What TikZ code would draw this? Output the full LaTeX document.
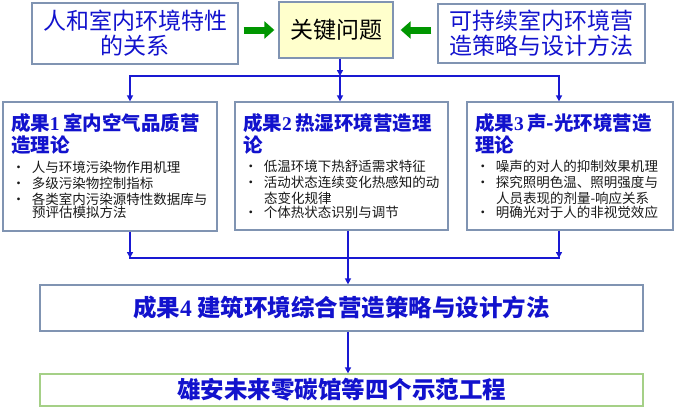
\documentclass[tikz,border=0pt]{standalone}
\usepackage{fontspec}
\setmainfont{Noto Sans CJK SC}
\newfontfamily\tnr{Liberation Serif}
\usetikzlibrary{arrows.meta}
\definecolor{tblue}{RGB}{18,18,205}
\definecolor{lblue}{RGB}{25,25,210}
\definecolor{bord}{RGB}{128,148,178}
\definecolor{keyfill}{RGB}{255,255,204}
\definecolor{gbord}{RGB}{165,208,135}
\definecolor{garr}{RGB}{0,150,0}
\definecolor{btxt}{RGB}{25,25,25}
\newcommand\mttl{\fontsize{19.5}{22}\selectfont\bfseries\color{tblue}}
\newcommand\mbdy{\fontsize{13.5}{16}\selectfont\mdseries\color{btxt}}
\newcommand\mbul{\makebox[21pt][l]{\hspace{1pt}\textbullet}}
\newcommand\mcont{\hspace*{21pt}}
\tikzset{
  box/.style={draw=bord, line width=1.3pt, inner sep=0pt, align=center},
  midbox/.style={box, align=left, inner xsep=8pt, minimum height=129pt},
  conn/.style={draw=lblue, line width=2pt, -{Triangle[length=6pt,width=6pt]}},
  plainconn/.style={draw=lblue, line width=2pt, line cap=rect},
  garrow/.style={draw=garr, line width=7pt, -{Triangle[length=10pt,width=17pt]}},
  topfont/.style={font=\fontsize{23}{25}\selectfont},
  botfont/.style={font=\fontsize{23.5}{25}\selectfont\bfseries}
}
\begin{document}
\begin{tikzpicture}[x=1pt,y=-1pt]
\useasboundingbox (0,0) rectangle (677,410);
% top row
\node[box, topfont, text=tblue, minimum width=206pt, minimum height=61pt] (b1) at (135,33.5) {人和室内环境特性\\的关系};
\node[box, topfont, fill=keyfill, text=black, minimum width=114pt, minimum height=56pt] (key) at (336,30) {关键问题};
\node[box, topfont, text=tblue, minimum width=207pt, minimum height=59pt] (b2) at (541.5,33.5) {可持续室内环境营\\造策略与设计方法};
\draw[garrow, shorten <=5pt, shorten >=4pt] (b1.east |- key.west) -- (key.west);
\draw[garrow, shorten <=6pt, shorten >=7pt] (b2.west |- key.east) -- (key.east);
% middle row
\node[midbox, text width=198pt, minimum width=214pt] (bA) at (110,166.5) {%
\mttl 成果{\tnr 1} 室内空气品质营\\
造理论\\[3.5pt]
\mbdy\mbul 人与环境污染物作用机理\\
\mbul 多级污染物控制指标\\
\mbul 各类室内污染源特性数据库与\\
\mcont 预评估模拟方法};
\node[midbox, text width=197pt, minimum width=213pt, minimum height=128pt] (bB) at (341.5,166) {%
\mttl 成果{\tnr 2} 热湿环境营造理\\
论\\[3.5pt]
\mbdy\mbul 低温环境下热舒适需求特征\\
\mbul 活动状态连续变化热感知的动\\
\mcont 态变化规律\\
\mbul 个体热状态识别与调节};
\node[midbox, text width=190pt, minimum width=206pt, minimum height=128pt] (bC) at (570,166) {%
\mttl 成果{\tnr 3} 声-光环境营造\\
理论\\[3.5pt]
\mbdy\mbul 噪声的对人的抑制效果机理\\
\mbul 探究照明色温、照明强度与\\
\mcont 人员表现的剂量-响应关系\\
\mbul 明确光对于人的非视觉效应};
% bottom
\node[box, botfont, text=tblue, minimum width=603pt, minimum height=46pt] (b4) at (341.5,308) {成果{\tnr 4} 建筑环境综合营造策略与设计方法};
\node[box, botfont, draw=gbord, text=tblue, minimum width=603pt, minimum height=32pt] (b5) at (341.5,390) {雄安未来零碳馆等四个示范工程};
% connectors top
\coordinate (hubT) at (340,76);
\coordinate (tA) at (130,76);
\coordinate (tC) at (559,76);
\draw[plainconn] (tA) -- (tC);
\draw[conn] (hubT |- key.south) -- (hubT);
\draw[conn] (hubT) -- (hubT |- bB.north);
\draw[conn] (tA) -- (tA |- bA.north);
\draw[conn] (tC) -- (tC |- bC.north);
% connectors bottom
\coordinate (hubB) at (348,258);
\coordinate (bL) at (130,258);
\coordinate (bR) at (559,258);
\draw[plainconn] (bL) -- (bR);
\draw[conn] (bL |- bA.south) -- (bL);
\draw[conn] (bR |- bC.south) -- (bR);
\draw[conn] (hubB |- bB.south) -- (hubB |- b4.north);
\draw[conn] (hubB |- b4.south) -- (hubB |- b5.north);
\end{tikzpicture}
\end{document}
